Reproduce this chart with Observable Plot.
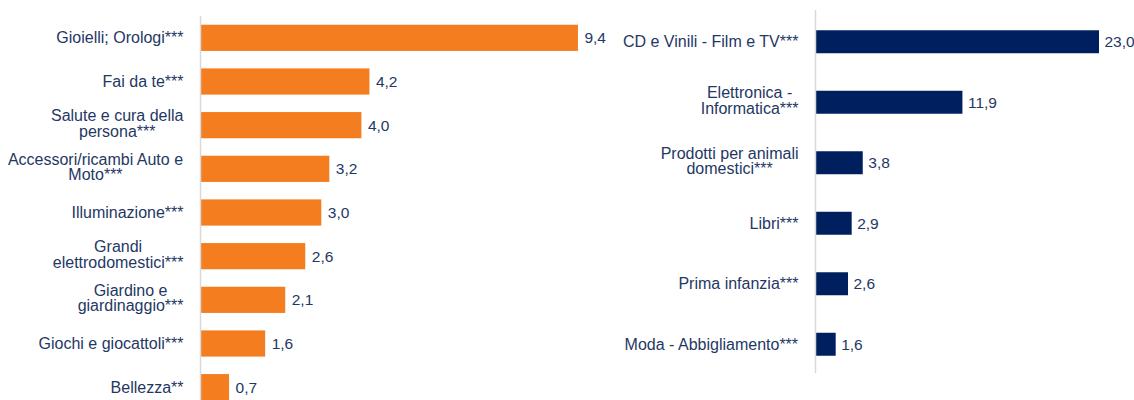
<!DOCTYPE html>
<html>
<head>
<meta charset="utf-8">
<script src="https://cdn.jsdelivr.net/npm/d3@7"></script>
<script src="https://cdn.jsdelivr.net/npm/@observablehq/plot@0.6"></script>
<style>
  body { margin: 0; background: #fff; }
  #wrap { position: relative; width: 1134px; height: 400px; overflow: hidden; background: #fff; }
  #left, #right { position: absolute; top: 0; height: 400px; overflow: hidden; }
  #left { left: 0; width: 610px; }
  #right { left: 610px; width: 524px; }
</style>
</head>
<body>
<div id="wrap"><div id="left"></div><div id="right"></div></div>
<script>
const leftCategories = [
  "Gioielli; Orologi***",
  "Fai da te***",
  "Salute e cura della\npersona***",
  "Accessori/ricambi Auto e\nMoto***",
  "Illuminazione***",
  "Grandi\nelettrodomestici***",
  "Giardino e\ngiardinaggio***",
  "Giochi e giocattoli***",
  "Bellezza**"
];
const leftValues = [9.4, 4.2, 4.0, 3.2, 3.0, 2.6, 2.1, 1.6, 0.7];

const rightCategories = [
  "CD e Vinili - Film e TV***",
  "Elettronica -\nInformatica***",
  "Prodotti per animali\ndomestici***",
  "Libri***",
  "Prima infanzia***",
  "Moda - Abbigliamento***"
];
const rightValues = [23.0, 11.9, 3.8, 2.9, 2.6, 1.6];

const FONT = "'Liberation Sans', Arial, sans-serif";
const TEXT = "#1f3864";
const LABEL_SIZE = 16;
const LINE_H = 15.5;
const PAD = 18;
const fmt = v => v.toFixed(1).replace(".", ",");

const ctx = document.createElement("canvas").getContext("2d");
ctx.font = `${LABEL_SIZE}px 'Liberation Sans', Arial, sans-serif`;

// Category labels: multi-line blocks, right-aligned as a block, lines centred within it
function labelMarks(cats) {
  const marks = [];
  cats.forEach(c => {
    const lines = c.split("\n");
    const w = Math.max(...lines.map(l => ctx.measureText(l).width));
    const n = lines.length;
    lines.forEach((line, i) => {
      marks.push(Plot.text([c], {
        y: d => d,
        frameAnchor: "left",
        text: () => line,
        textAnchor: "middle",
        dx: -(PAD + w / 2),
        dy: (i - (n - 1) / 2) * LINE_H - (n > 1 ? 2 : 0),
        fill: TEXT,
        fontSize: LABEL_SIZE
      }));
    });
  });
  return marks;
}

function panel(cats, vals, opts) {
  const data = cats.map((c, i) => ({cat: c, value: vals[i]}));
  return Plot.plot({
    width: opts.width,
    height: 400,
    marginLeft: opts.marginLeft,
    marginRight: opts.marginRight,
    marginTop: opts.marginTop,
    marginBottom: opts.marginBottom,
    style: {fontFamily: FONT, fontSize: "16px", color: TEXT, background: "transparent"},
    x: {domain: opts.xDomain, axis: null},
    y: {domain: cats, range: opts.yRange, paddingInner: opts.padIn, paddingOuter: opts.padOut, round: false, axis: null},
    marks: [
      Plot.barX(data, {x: "value", y: "cat", fill: opts.fill}),
      Plot.ruleX([0], {stroke: "#d9d9d9", strokeWidth: 1.5, dx: -1}),
      ...labelMarks(cats),
      Plot.text(data, {x: "value", y: "cat", text: d => fmt(d.value), textAnchor: "start", dx: opts.dx, fill: TEXT, fontSize: 15.5})
    ]
  });
}

const leftSvg = panel(leftCategories, leftValues, {
  width: 610, marginLeft: 201, marginRight: 8, marginTop: 16, marginBottom: 0,
  xDomain: [0, 10], yRange: [16, 409], padIn: 0.4, padOut: 0.2, fill: "#f47d20", dx: 6
});
const rightSvg = panel(rightCategories, rightValues, {
  width: 524, marginLeft: 206, marginRight: 10.4, marginTop: 10, marginBottom: 27,
  xDomain: [0, 25], yRange: [11.5, 374.5], padIn: 0.62, padOut: 0.31, fill: "#001f5f", dx: 5
});
document.getElementById("left").appendChild(leftSvg);
document.getElementById("right").appendChild(rightSvg);
</script>
</body>
</html>
